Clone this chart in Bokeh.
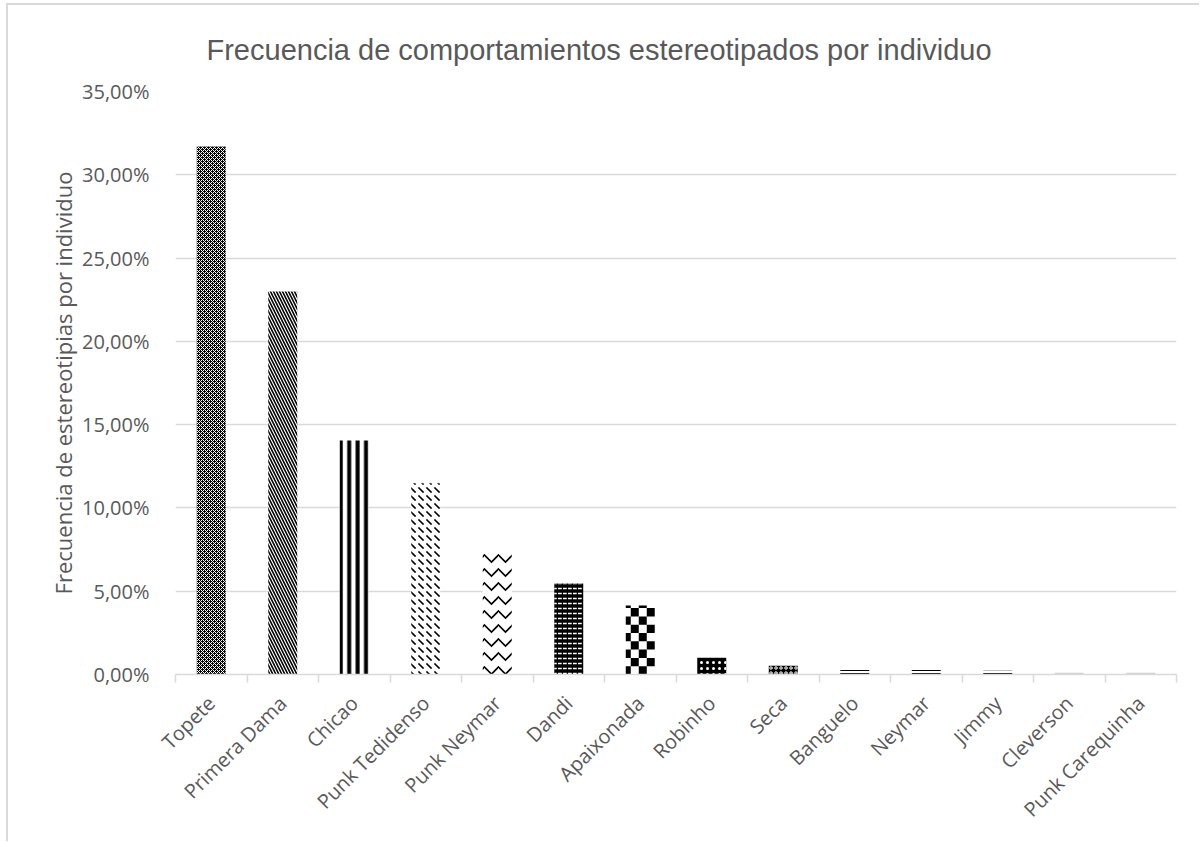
import math

from bokeh.plotting import figure
from bokeh.models import Range1d, FixedTicker, Title
from bokeh.embed import file_html
from bokeh.resources import INLINE

# --- data -------------------------------------------------------------
individuos = [
    "Topete", "Primera Dama", "Chicao", "Punk Tedidenso", "Punk Neymar",
    "Dandi", "Apaixonada", "Robinho", "Seca", "Banguelo", "Neymar",
    "Jimmy", "Cleverson", "Punk Carequinha",
]
frecuencia_pct = [
    31.70, 23.00, 14.05, 11.48, 7.50,
    5.46, 4.14, 1.00, 0.52, 0.38, 0.38,
    0.22, 0.10, 0.10,
]
y_ticks = [0, 5, 10, 15, 20, 25, 30, 35]
y_tick_labels = ["0,00%", "5,00%", "10,00%", "15,00%", "20,00%", "25,00%", "30,00%", "35,00%"]

# --- styling ----------------------------------------------------------
GRID = "#d9d9d9"
TEXT = "#595959"
BAR_WIDTH = 0.405

# fill / hatch used for each bar, in the same order as the individuals
bar_styles = [
    dict(fill_color="black", hatch_pattern="diagonal_cross", hatch_color="white", hatch_scale=4, hatch_weight=1),
    dict(fill_color="white", hatch_pattern="left_diagonal_line", hatch_color="black", hatch_scale=6, hatch_weight=1.6),
    dict(fill_color="white", hatch_pattern="vertical_line", hatch_color="black", hatch_scale=8.4, hatch_weight=4),
    dict(fill_color="white", hatch_pattern="left_diagonal_dash", hatch_color="black", hatch_scale=8, hatch_weight=1.6),
    dict(fill_color="white", hatch_pattern="horizontal_wave", hatch_color="black", hatch_scale=14, hatch_weight=1.6),
    dict(fill_color="black", hatch_pattern="horizontal_dash", hatch_color="white", hatch_scale=5, hatch_weight=1.5),
    dict(fill_color="white"),  # checkerboard squares are laid over this one
    dict(fill_color="black", hatch_pattern="dot", hatch_color="white", hatch_scale=6, hatch_weight=1),
    dict(fill_color="black", hatch_pattern="ring", hatch_color="white", hatch_scale=5, hatch_weight=1),
    dict(fill_color="white", hatch_pattern="horizontal_line", hatch_color="black", hatch_scale=3, hatch_weight=1),
    dict(fill_color="white", hatch_pattern="horizontal_line", hatch_color="black", hatch_scale=3, hatch_weight=1),
    dict(fill_color="white", hatch_pattern="horizontal_line", hatch_color="black", hatch_scale=3, hatch_weight=1),
    dict(fill_color="#d0d0d0"),
    dict(fill_color="#d0d0d0"),
]
CHECKER_BAR = 6

n = len(individuos)
PLOT_W, PLOT_H = 1193, 838
BORDER_L, BORDER_R, BORDER_T, BORDER_B = 167, 25, 86, 169
Y_MAX = 35

p = figure(
    width=PLOT_W, height=PLOT_H,
    x_range=Range1d(0, n), y_range=Range1d(0, Y_MAX),
    output_backend="svg", toolbar_location=None,
    min_border_left=BORDER_L, min_border_right=BORDER_R,
    min_border_top=BORDER_T, min_border_bottom=BORDER_B,
)
p.styles = {
    "margin-left": "6px", "margin-top": "3px",
    "border-left": "2px solid #d9d9d9", "border-top": "2px solid #d9d9d9",
}
p.outline_line_color = None
p.background_fill_color = "white"
p.border_fill_color = "white"

# bars
for i, (v, st) in enumerate(zip(frecuencia_pct, bar_styles)):
    p.vbar(x=[i + 0.5], top=[v], bottom=0, width=BAR_WIDTH, line_color=None, **st)

# checkerboard texture for one bar: 8 px squares clipped to the bar outline
px_per_cat = (PLOT_W - BORDER_L - BORDER_R) / n
px_per_pct = (PLOT_H - BORDER_T - BORDER_B) / Y_MAX
cell_x = 8.0 / px_per_cat
cell_y = 8.3 / px_per_pct
top = frecuencia_pct[CHECKER_BAR]
x0 = CHECKER_BAR + 0.5 - BAR_WIDTH / 2
x1 = CHECKER_BAR + 0.5 + BAR_WIDTH / 2
gx = x0 - 3.0 / px_per_cat
lefts, rights, bottoms, tops = [], [], [], []
for r in range(int(math.ceil(top / cell_y))):
    for c in range(6):
        if (r + c) % 2:
            continue
        l, rr = max(x0, gx + c * cell_x), min(x1, gx + (c + 1) * cell_x)
        b, t = r * cell_y, min(top, (r + 1) * cell_y)
        if rr > l and t > b:
            lefts.append(l); rights.append(rr); bottoms.append(b); tops.append(t)
p.quad(left=lefts, right=rights, bottom=bottoms, top=tops, fill_color="black", line_color=None)

# title
title = Title(
    text="Frecuencia de comportamientos estereotipados por individuo",
    text_font="Liberation Sans", text_font_size="29px", text_font_style="normal",
    text_color=TEXT, align="left", offset=31, standoff=51,
)
p.add_layout(title, "above")
p.title.visible = False

# y axis
yax = p.yaxis[0]
yax.ticker = FixedTicker(ticks=y_ticks)
yax.major_label_overrides = dict(zip(y_ticks, y_tick_labels))
yax.axis_line_color = None
yax.major_tick_line_color = None
yax.minor_tick_line_color = None
yax.major_label_standoff = 20
yax.major_label_text_font = "Open Sans"
yax.major_label_text_font_size = "20px"
yax.major_label_text_color = TEXT
yax.axis_label = "Frecuencia de estereotipias por individuo"
yax.axis_label_text_font = "Open Sans"
yax.axis_label_text_font_size = "22px"
yax.axis_label_text_font_style = "normal"
yax.axis_label_text_color = TEXT
yax.axis_label_standoff = 1

# x axis: labels at category centres, tick marks at category edges
xax = p.xaxis[0]
centres = [i + 0.5 for i in range(n)]
xax.ticker = FixedTicker(ticks=centres, minor_ticks=list(range(n + 1)))
xax.major_label_overrides = dict(zip(centres, individuos))
xax.major_label_orientation = math.pi / 4
xax.major_label_text_font = "Open Sans"
xax.major_label_text_font_size = "20px"
xax.major_label_text_color = TEXT
xax.major_label_standoff = 17
xax.axis_line_color = GRID
xax.axis_line_width = 1.5
xax.major_tick_line_color = None
xax.minor_tick_line_color = GRID
xax.minor_tick_line_width = 1.5
xax.minor_tick_in = 0
xax.minor_tick_out = 8

p.xgrid.grid_line_color = None
p.ygrid.grid_line_color = GRID
p.ygrid.grid_line_width = 1.5

open("out.html", "w").write(file_html(p, INLINE))
